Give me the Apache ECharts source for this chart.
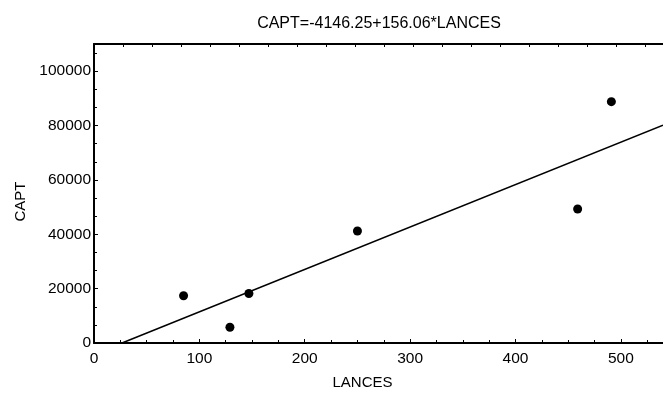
<!DOCTYPE html>
<html>
<head>
<meta charset="utf-8">
<script src="https://cdn.jsdelivr.net/npm/echarts@6/dist/echarts.min.js"></script>
<style>
  html, body { margin: 0; padding: 0; background: #fff; }
  #chart { width: 663px; height: 393px; }
</style>
</head>
<body>
<div id="chart"></div>
<script>
// 数据：散点与回归线
const lances = [85, 129, 147, 250, 459, 491];
const capt = [17400, 5800, 18200, 41200, 49300, 88800];
const fitX = [26.57, 540];
const fitY = [0, 80126];
const titleText = "CAPT=-4146.25+156.06*LANCES";

const font = "Liberation Sans, Arial, sans-serif";
const chart = echarts.init(document.getElementById("chart"));

const option = {
    animation: false,
    backgroundColor: "#fff",
    title: {
        text: titleText,
        left: 374,
        top: 11,
        textAlign: "center",
        textStyle: { fontFamily: font, fontSize: 16, fontWeight: "normal", color: "#000" }
    },
    // 关闭v6的外边界自动收缩，保证绘图区位置固定
    grid: { left: 94, right: 0, top: 44, bottom: 50, containLabel: false, outerBoundsMode: "none" },
    xAxis: [
        {
            type: "value",
            position: "bottom",
            min: 0,
            max: 540,
            interval: 100,
            name: "LANCES",
            nameLocation: "middle",
            nameGap: 32,
            nameTextStyle: { fontFamily: font, fontSize: 15, color: "#000", padding: [0, 32, 0, 0] },
            axisLine: { lineStyle: { color: "#000", width: 2 } },
            axisTick: { inside: true, length: 4, lineStyle: { color: "#000", width: 1 } },
            minorTick: { show: true, splitNumber: 4, length: 3, lineStyle: { color: "#000" } },
            axisLabel: { fontFamily: font, fontSize: 15.5, color: "#000", margin: 8, showMaxLabel: false, formatter: v => String(v) },
            splitLine: { show: false }
        },
        {
            type: "value",
            position: "top",
            min: 0,
            max: 19.62,
            interval: 1,
            axisLine: { lineStyle: { color: "#000", width: 2 } },
            axisTick: { inside: true, length: 3, lineStyle: { color: "#000", width: 1 } },
            axisLabel: { show: false },
            splitLine: { show: false }
        }
    ],
    yAxis: {
        type: "value",
        min: 0,
        max: 110000,
        interval: 20000,
        name: "CAPT",
        nameLocation: "middle",
        nameGap: 63,
        nameTextStyle: { fontFamily: font, fontSize: 15, color: "#000", padding: [0, 16, 0, 0] },
        axisLine: { show: true, lineStyle: { color: "#000", width: 2 } },
        axisTick: { show: true, inside: true, length: 4, lineStyle: { color: "#000", width: 1 } },
        minorTick: { show: true, splitNumber: 3, length: 3, lineStyle: { color: "#000" } },
        axisLabel: { fontFamily: font, fontSize: 15.5, color: "#000", margin: 3, showMaxLabel: false, formatter: v => String(v) },
        splitLine: { show: false }
    },
    series: [
        {
            type: "line",
            data: fitX.map((x, i) => [x, fitY[i]]),
            showSymbol: false,
            lineStyle: { color: "#000", width: 1.5 },
            silent: true
        },
        {
            type: "scatter",
            data: lances.map((x, i) => [x, capt[i]]),
            symbol: "circle",
            symbolSize: 9,
            itemStyle: { color: "#000", opacity: 1 }
        }
    ]
};

chart.setOption(option);
</script>
</body>
</html>
